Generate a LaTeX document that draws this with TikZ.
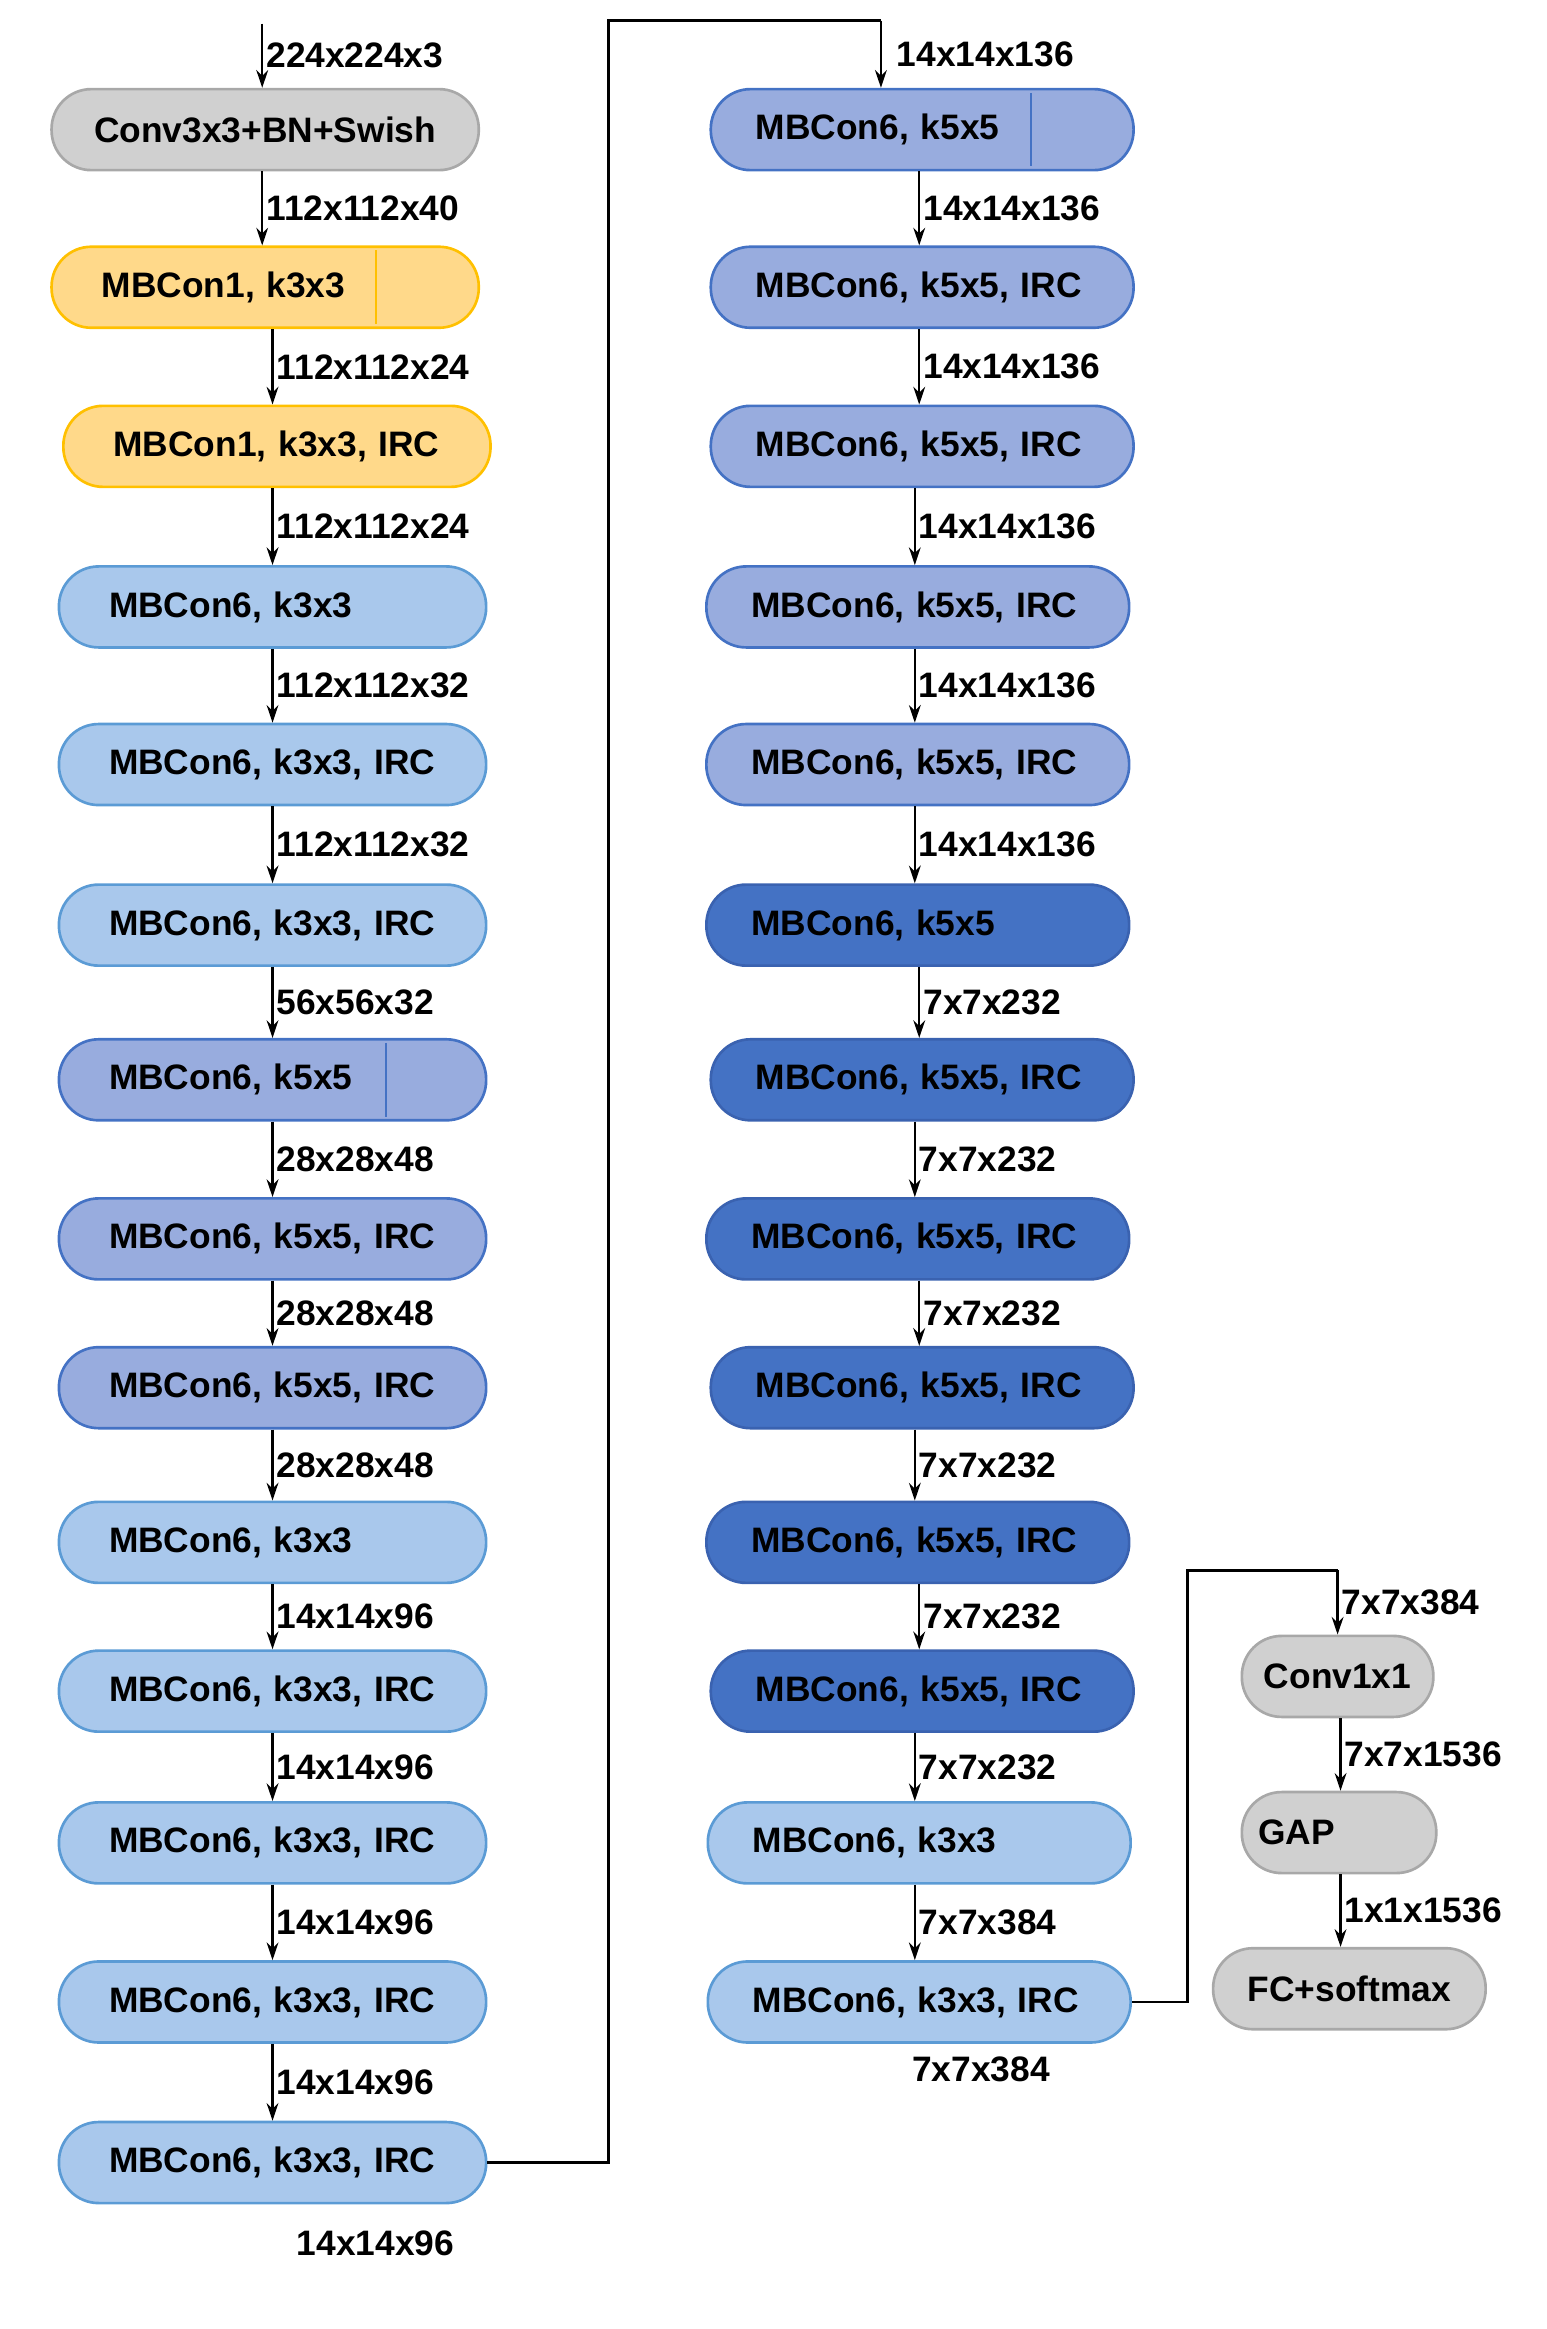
\documentclass[tikz,border=0pt]{standalone}
\usepackage{fontspec}
\setmainfont{Liberation Sans}
\usetikzlibrary{arrows.meta}
\definecolor{gfill}{HTML}{D0D0D0}\definecolor{gline}{HTML}{A8A8A8}
\definecolor{yfill}{HTML}{FFD98A}\definecolor{yline}{HTML}{FFC000}
\definecolor{lfill}{HTML}{A9C8EC}\definecolor{lline}{HTML}{5B9BD5}
\definecolor{mfill}{HTML}{98ACDE}\definecolor{mline}{HTML}{4472C4}
\definecolor{dfill}{HTML}{4472C4}\definecolor{dline}{HTML}{3A62B0}
\begin{document}
\begin{tikzpicture}[x=1pt,y=-1pt,
  blk/.style={rounded corners=27pt,line width=1.8pt,minimum height=55pt,inner sep=0pt,font=\fontsize{24}{26}\selectfont\bfseries},
  L/.style={blk,minimum width=290pt,text width=270pt,align=left,execute at begin node=\hspace*{24pt}},
  M/.style={blk,minimum width=287pt,text width=270pt,align=left,execute at begin node=\hspace*{22pt}},
  gr/.style={fill=gfill,draw=gline},
  ye/.style={fill=yfill,draw=yline},
  lb/.style={fill=lfill,draw=lline},
  mb/.style={fill=mfill,draw=mline},
  db/.style={fill=dfill,draw=dline},
  arr/.style={-{Stealth[length=12pt,width=8pt]},line width=1.6pt},
  lab/.style={anchor=west,inner sep=2pt,font=\fontsize{24}{26}\selectfont\bfseries},
  con/.style={line width=2pt}]
\useasboundingbox (0,0) rectangle (1050,1581);
% left column
\node[blk,gr,minimum width=290pt,align=center] (c0) at (180,88) {Conv3x3+BN+Swish};
\node[L,ye] (l1) at (180,195) {MBCon1, k3x3};
\node[L,ye] (l2) at (188,303) {MBCon1, k3x3, IRC};
\node[L,lb] (l3) at (185,412) {MBCon6, k3x3};
\node[L,lb] (l4) at (185,519) {MBCon6, k3x3, IRC};
\node[L,lb] (l5) at (185,628) {MBCon6, k3x3, IRC};
\node[L,mb] (l6) at (185,733) {MBCon6, k5x5};
\node[L,mb] (l7) at (185,841) {MBCon6, k5x5, IRC};
\node[L,mb] (l8) at (185,942) {MBCon6, k5x5, IRC};
\node[L,lb] (l9) at (185,1047) {MBCon6, k3x3};
\node[L,lb] (l10) at (185,1148) {MBCon6, k3x3, IRC};
\node[L,lb] (l11) at (185,1251) {MBCon6, k3x3, IRC};
\node[L,lb] (l12) at (185,1359) {MBCon6, k3x3, IRC};
\node[L,lb] (l13) at (185,1468) {MBCon6, k3x3, IRC};
\draw[yline,line width=1.5pt] (255,170) -- (255,220);
\draw[mline,line width=1.5pt] (262,708) -- (262,758);
% middle column
\node[M,mb] (m1) at (626,88) {MBCon6, k5x5};
\node[M,mb] (m2) at (626,195) {MBCon6, k5x5, IRC};
\node[M,mb] (m3) at (626,303) {MBCon6, k5x5, IRC};
\node[M,mb] (m4) at (623,412) {MBCon6, k5x5, IRC};
\node[M,mb] (m5) at (623,519) {MBCon6, k5x5, IRC};
\node[M,db] (m6) at (623,628) {MBCon6, k5x5};
\node[M,db] (m7) at (626,733) {MBCon6, k5x5, IRC};
\node[M,db] (m8) at (623,841) {MBCon6, k5x5, IRC};
\node[M,db] (m9) at (626,942) {MBCon6, k5x5, IRC};
\node[M,db] (m10) at (623,1047) {MBCon6, k5x5, IRC};
\node[M,db] (m11) at (626,1148) {MBCon6, k5x5, IRC};
\node[M,lb] (m12) at (624,1251) {MBCon6, k3x3};
\node[M,lb] (m13) at (624,1359) {MBCon6, k3x3, IRC};
\draw[mline,line width=1.5pt] (700,63) -- (700,113);
% right column
\node[blk,gr,minimum width=130pt,align=center] (r1) at (908,1138) {Conv1x1};
\node[blk,gr,minimum width=132pt,text width=110pt,align=left] (r2) at (909,1244) {GAP};
\node[blk,gr,minimum width=185pt,align=center] (r3) at (916,1350) {FC+softmax};
% arrows left
\coordinate (top) at (178,16);
\draw[arr] (top) -- (top |- c0.north) node[lab,midway] {224x224x3};
\foreach \a/\b/\x/\t in {c0/l1/178/112x112x40,l1/l2/185/112x112x24,l2/l3/185/112x112x24,l3/l4/185/112x112x32,l4/l5/185/112x112x32,l5/l6/185/56x56x32,l6/l7/185/28x28x48,l7/l8/185/28x28x48,l8/l9/185/28x28x48,l9/l10/185/14x14x96,l10/l11/185/14x14x96,l11/l12/185/14x14x96,l12/l13/185/14x14x96}{
  \draw[arr] (\a.south -| \x,0) -- (\b.north -| \x,0) node[lab,midway] {\t};}
\foreach \a/\b/\x/\t in {m1/m2/624/14x14x136,m2/m3/624/14x14x136,m3/m4/621/14x14x136,m4/m5/621/14x14x136,m5/m6/621/14x14x136,m6/m7/624/7x7x232,m7/m8/621/7x7x232,m8/m9/624/7x7x232,m9/m10/621/7x7x232,m10/m11/624/7x7x232,m11/m12/621/7x7x232,m12/m13/621/7x7x384}{
  \draw[arr] (\a.south -| \x,0) -- (\b.north -| \x,0) node[lab,midway] {\t};}
\draw[arr] (r1.south -| 910,0) -- (r2.north -| 910,0) node[lab,midway] {7x7x1536};
\draw[arr] (r2.south -| 910,0) -- (r3.north -| 910,0) node[lab,midway] {1x1x1536};
% connectors
\coordinate (k1) at (413,14);
\draw[con] (l13.east) -- (l13.east -| k1) -- (k1) -- (598,14);
\draw[arr] (598,14) -- (m1.north -| 598,0) node[lab,midway,xshift=8pt] {14x14x136};
\coordinate (k2) at (806,1066);
\draw[con] (m13.east) -- (m13.east -| k2) -- (k2) -- (908,1066);
\draw[arr] (908,1066) -- (r1.north -| 908,0) node[lab,midway] {7x7x384};
\node[lab,anchor=center] (t1) at (255,1523) {14x14x96};
\node[lab,anchor=center] (t2) at (666,1405) {7x7x384};
\end{tikzpicture}
\end{document}
